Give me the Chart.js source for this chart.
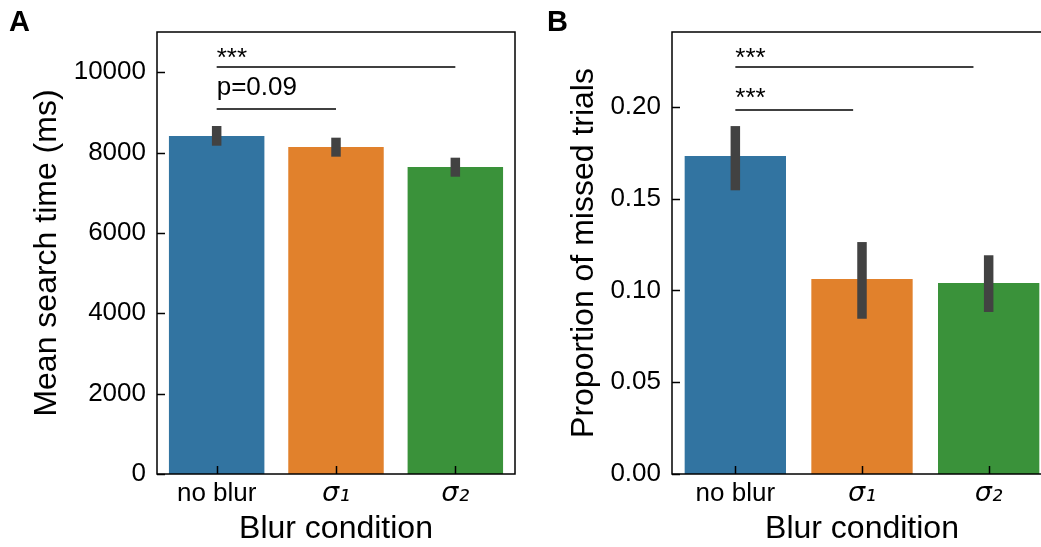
<!DOCTYPE html>
<html>
<head>
<meta charset="utf-8">
<script src="https://cdn.jsdelivr.net/npm/chart.js@4/dist/chart.umd.min.js"></script>
<style>
  html, body { margin: 0; padding: 0; background: #fff; }
  #wrap { position: relative; width: 1041px; height: 547px; overflow: hidden; }
  canvas { position: absolute; top: 0; }
  #panelA { left: 0; }
  #panelB { left: 520px; }
</style>
</head>
<body>
<div id="wrap">
  <canvas id="panelA" width="520" height="547"></canvas>
  <canvas id="panelB" width="540" height="547"></canvas>
</div>
<script>
const categories = ["no blur", "σ₁", "σ₂"];
const barColors = ["#3274a1", "#e1812c", "#3a923a"];

// panel A: mean search time (ms)
const searchTime = [8412, 8138, 7640];
const searchLow = [8170, 7897, 7399];
const searchHigh = [8661, 8370, 7872];
const searchTicks = [0, 2000, 4000, 6000, 8000, 10000];
const searchSig = [
  { from: 0, to: 2, y: 10129, label: "***", labelY: 10154 },
  { from: 0, to: 1, y: 9084, label: "p=0.09", labelY: 9430 },
];

// panel B: proportion of missed trials
const missed = [0.1733, 0.1063, 0.1041];
const missedLow = [0.1546, 0.0846, 0.0883];
const missedHigh = [0.1896, 0.1264, 0.1192];
const missedTicks = [0.0, 0.05, 0.1, 0.15, 0.2];
// brackets in B stop short of the bar centres in the original
const missedSig = [
  { from: 0, to: 1.88, y: 0.2218, label: "***", labelY: 0.2223 },
  { from: 0, to: 0.93, y: 0.1984, label: "***", labelY: 0.2005 },
];

const SANS = "'Liberation Sans', Arial, Helvetica, sans-serif";

const decorPlugin = {
  id: "decor",
  afterDatasetsDraw(chart, args, opts) {
    const ctx = chart.ctx;
    const x = chart.scales.x;
    const y = chart.scales.y;
    ctx.save();
    ctx.strokeStyle = "#424242";
    ctx.lineWidth = 9.5;
    ctx.lineCap = "butt";
    opts.low.forEach((lo, i) => {
      const px = x.getPixelForValue(i);
      ctx.beginPath();
      ctx.moveTo(px, y.getPixelForValue(lo));
      ctx.lineTo(px, y.getPixelForValue(opts.high[i]));
      ctx.stroke();
    });
    ctx.restore();
  },
  afterDraw(chart, args, opts) {
    const ctx = chart.ctx;
    const area = chart.chartArea;
    const x = chart.scales.x;
    const y = chart.scales.y;
    ctx.save();
    ctx.strokeStyle = "#000";
    ctx.lineWidth = 1.5;
    ctx.strokeRect(area.left, area.top, area.right - area.left, area.bottom - area.top);

    // inward ticks
    opts.yTicks.forEach((v) => {
      const py = Math.round(y.getPixelForValue(v)) + 0.5;
      ctx.beginPath();
      ctx.moveTo(area.left, py);
      ctx.lineTo(area.left + 8, py);
      ctx.stroke();
    });
    categories.forEach((c, i) => {
      const px = Math.round(x.getPixelForValue(i)) + 0.5;
      ctx.beginPath();
      ctx.moveTo(px, area.bottom);
      ctx.lineTo(px, area.bottom - 8);
      ctx.stroke();
    });

    // significance brackets
    ctx.fillStyle = "#000";
    ctx.font = "26px " + SANS;
    ctx.textAlign = "left";
    ctx.textBaseline = "alphabetic";
    opts.sig.forEach((s) => {
      const x1 = x.getPixelForValue(s.from);
      const x2 = x.getPixelForValue(s.to);
      const py = y.getPixelForValue(s.y);
      ctx.beginPath();
      ctx.moveTo(x1, py);
      ctx.lineTo(x2, py);
      ctx.stroke();
      ctx.fillText(s.label, x1, y.getPixelForValue(s.labelY));
    });

    // panel letter
    ctx.font = "bold 29px " + SANS;
    ctx.fillText(opts.letter, opts.letterX, 31);
    ctx.restore();
  },
};

function makePanel(canvasId, cfg) {
  return new Chart(document.getElementById(canvasId), {
    type: "bar",
    data: {
      labels: categories,
      datasets: [
        {
          data: cfg.values,
          backgroundColor: barColors,
          borderWidth: 0,
          categoryPercentage: 0.8,
          barPercentage: 1.0,
        },
      ],
    },
    plugins: [decorPlugin],
    options: {
      responsive: false,
      animation: false,
      devicePixelRatio: 1,
      layout: {
        padding: { top: 32, right: cfg.padRight, left: 0, bottom: 0 },
      },
      plugins: {
        legend: { display: false },
        tooltip: { enabled: false },
        decor: {
          low: cfg.low,
          high: cfg.high,
          yTicks: cfg.ticks,
          sig: cfg.sig,
          letter: cfg.letter,
          letterX: cfg.letterX,
        },
      },
      scales: {
        x: {
          grid: { display: false, drawTicks: false },
          border: { display: false },
          ticks: {
            color: "#000",
            padding: 4,
            font: (ctx) =>
              ctx.index > 0
                ? { family: "'DejaVu Sans', sans-serif", size: 27, style: "italic" }
                : { family: SANS, size: 26 },
          },
          title: {
            display: true,
            text: "Blur condition",
            color: "#000",
            font: { family: SANS, size: 32, lineHeight: 1 },
            padding: { top: 0, bottom: 2 },
          },
          afterFit: (scale) => {
            scale.height = 73;
          },
        },
        y: {
          min: 0,
          max: cfg.max,
          grid: { display: false, drawTicks: false },
          border: { display: false },
          afterBuildTicks: (scale) => {
            scale.ticks = cfg.ticks.map((v) => ({ value: v }));
          },
          ticks: {
            color: "#000",
            padding: 11,
            font: { family: SANS, size: 26 },
            callback: cfg.format,
          },
          title: {
            display: true,
            text: cfg.yTitle,
            color: "#000",
            font: { family: SANS, size: 32, lineHeight: 1 },
            padding: { top: cfg.titlePad, bottom: 0 },
          },
          afterFit: (scale) => {
            scale.width = cfg.yWidth;
          },
        },
      },
    },
  });
}

makePanel("panelA", {
  values: searchTime,
  low: searchLow,
  high: searchHigh,
  ticks: searchTicks,
  sig: searchSig,
  max: 11000,
  format: (v) => String(v),
  yTitle: "Mean search time (ms)",
  yWidth: 157,
  padRight: 5,
  titlePad: 31,
  letter: "A",
  letterX: 9,
});

makePanel("panelB", {
  values: missed,
  low: missedLow,
  high: missedHigh,
  ticks: missedTicks,
  sig: missedSig,
  max: 0.24087,
  format: (v) => v.toFixed(2),
  yTitle: "Proportion of missed trials",
  yWidth: 152,
  padRight: 8,
  titlePad: 48,
  letter: "B",
  letterX: 27,
});
</script>
</body>
</html>
